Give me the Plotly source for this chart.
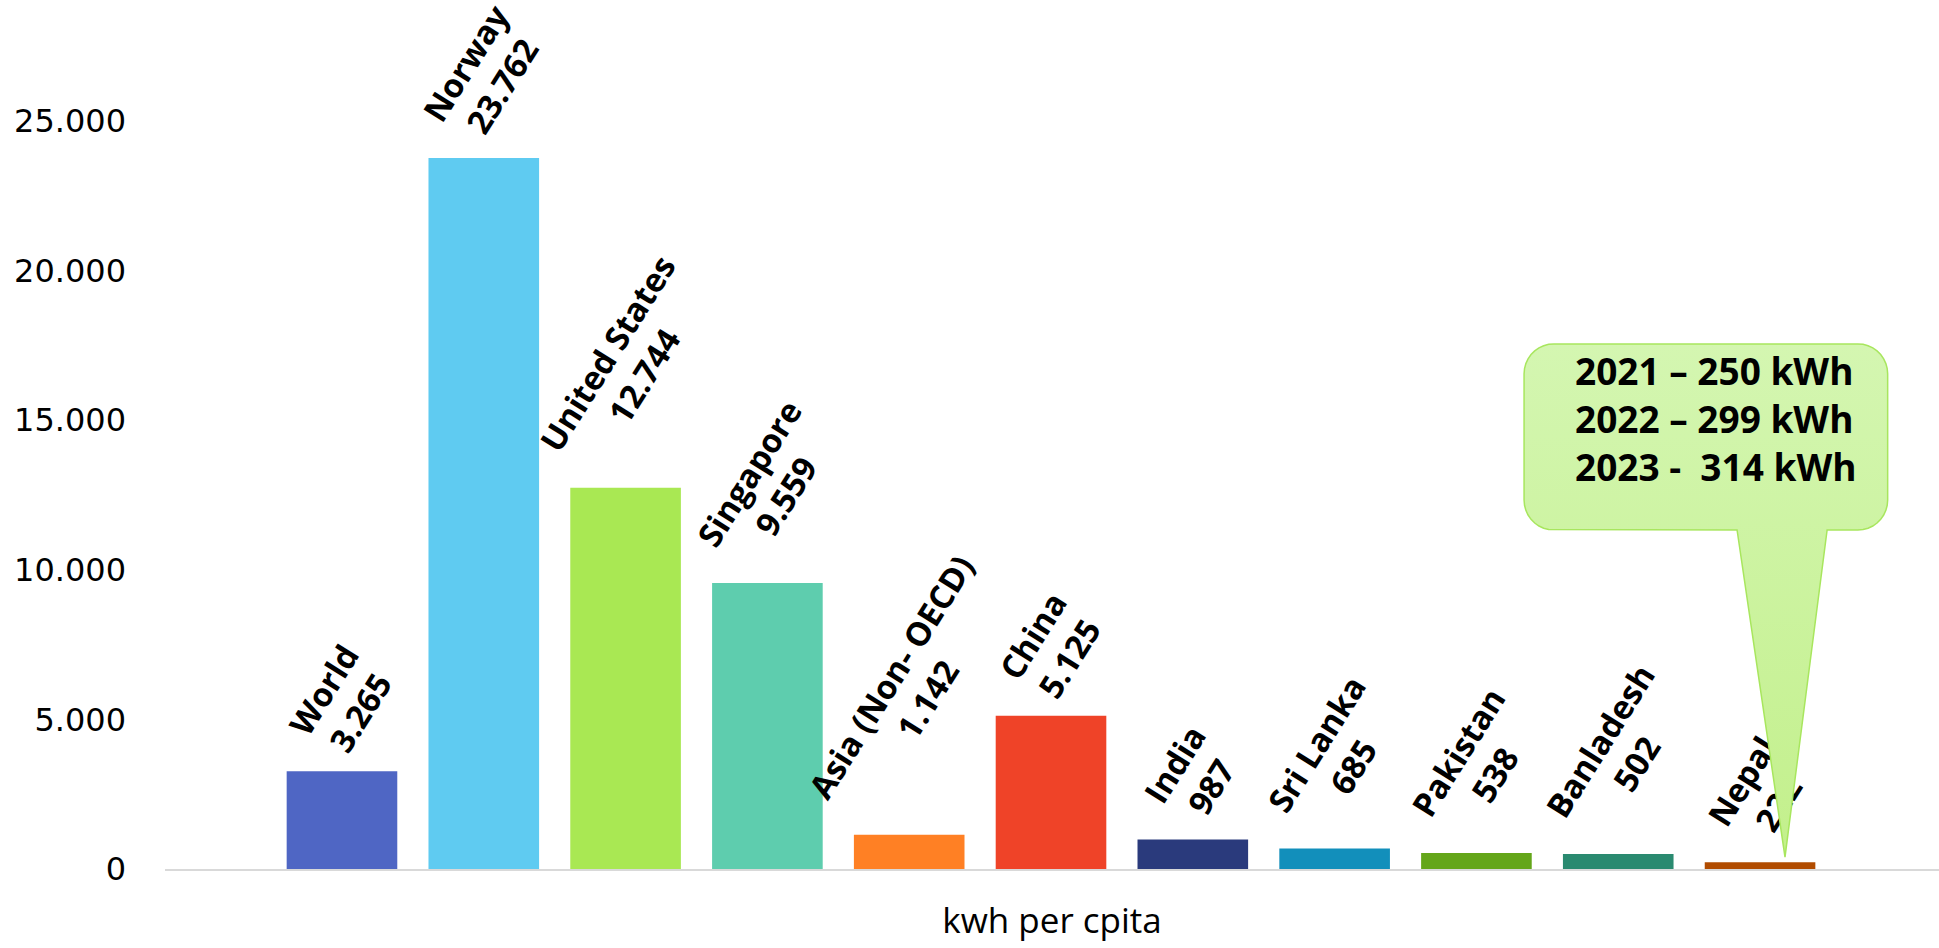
import numpy as np
import plotly.graph_objects as go

# Electricity consumption, kWh per capita
categories = ["World", "Norway", "United States", "Singapore", "Asia (Non- OECD)",
              "China", "India", "Sri Lanka", "Pakistan", "Banladesh", "Nepal"]
values = [3265, 23762, 12744, 9559, 1142, 5125, 987, 685, 538, 502, 222]

# Nepal year-by-year figures shown in the callout
nepal_years = ["2021", "2022", "2023"]
nepal_kwh = [250, 299, 314]
nepal_seps = ["\u2013", "\u2013", "-&nbsp;"]

bar_colors = ["#4F66C4", "#5FCBF1", "#A9E853", "#5ECDAE", "#FF8024", "#EF4328",
              "#2A3A7C", "#128FBB", "#64A61A", "#2A8A70", "#B14C00"]

x_pos = list(range(len(categories)))


def fmt(v):
    return f"{v:,}".replace(",", ".")


labels = [f"{c}<br>{fmt(v)}" for c, v in zip(categories, values)]

LABEL_FONT = dict(family="Open Sans", size=33, color="black", weight="bold")
LABEL_GAP = 80  # space between bar top and its label, in kWh units

fig = go.Figure()

# Main bars
fig.add_trace(go.Bar(
    x=x_pos, y=values, width=0.78,
    marker=dict(color=bar_colors, line=dict(width=0)),
    hoverinfo="skip", showlegend=False,
))

# Transparent spacer on top of each bar that carries the rotated value label
fig.add_trace(go.Bar(
    x=x_pos, y=[LABEL_GAP] * len(values), base=values, width=0.78,
    marker=dict(color="rgba(0,0,0,0)", line=dict(width=0)),
    text=labels, textposition="outside", textangle=-58,
    constraintext="none", cliponaxis=False,
    outsidetextfont=LABEL_FONT,
    hoverinfo="skip", showlegend=False,
))

# Speech-bubble callout for Nepal
box_l, box_r, box_t, box_b = 8.336, 10.90, 17550, 11330
rx, ry = 0.21, 1000
tail_l, tail_r = 9.838, 10.473
tip_x, tip_y = 10.176, 400


def arc(cx, cy, a0, a1, n=10):
    t = np.linspace(np.radians(a0), np.radians(a1), n)
    return list(cx + rx * np.cos(t)), list(cy + ry * np.sin(t))


px, py = [], []
for cx, cy, a0, a1 in [(box_l + rx, box_t - ry, 180, 90),
                       (box_r - rx, box_t - ry, 90, 0),
                       (box_r - rx, box_b + ry, 0, -90)]:
    ax_, ay_ = arc(cx, cy, a0, a1)
    px += ax_
    py += ay_
px += [tail_r, tip_x, tail_l]
py += [box_b, tip_y, box_b]
ax_, ay_ = arc(box_l + rx, box_b + ry, -90, -180)
px += ax_
py += ay_
px.append(px[0])
py.append(py[0])

fig.add_trace(go.Scatter(
    x=px, y=py, mode="lines", fill="toself",
    line=dict(color="#A8E65E", width=1.5),
    fillgradient=dict(type="vertical",
                      colorscale=[[0, "#C3F08C"], [1, "#D4F6B1"]]),
    hoverinfo="skip", showlegend=False,
))

callout_text = "<br>".join(
    f"{y} {s} {k} kWh" for y, s, k in zip(nepal_years, nepal_seps, nepal_kwh))
fig.add_annotation(
    x=9.683, y=15070, text=callout_text, showarrow=False, align="left",
    xanchor="center", yanchor="middle",
    font=dict(family="Open Sans", size=37, color="black", weight="bold"),
)

fig.update_layout(
    width=1939, height=948,
    margin=dict(l=165, r=0, t=0, b=79),
    paper_bgcolor="white", plot_bgcolor="white",
    barmode="overlay",
    separators=",.",
    showlegend=False,
    xaxis=dict(
        range=[-1.248, 11.262],
        showticklabels=False, ticks="", showgrid=False, zeroline=False,
        showline=True, linecolor="#D9D9D9", linewidth=2,
        title=dict(text="kwh per cpita", standoff=38,
                   font=dict(family="Open Sans", size=35, color="black")),
    ),
    yaxis=dict(
        range=[0, 29044],
        tickvals=[0, 5000, 10000, 15000, 20000, 25000],
        tickformat=",d",
        showgrid=False, zeroline=False, showline=False, ticks="",
        ticklabelstandoff=38,
        tickfont=dict(family="DejaVu Sans", size=32, color="black"),
    ),
)

fig.write_html("out.html")
